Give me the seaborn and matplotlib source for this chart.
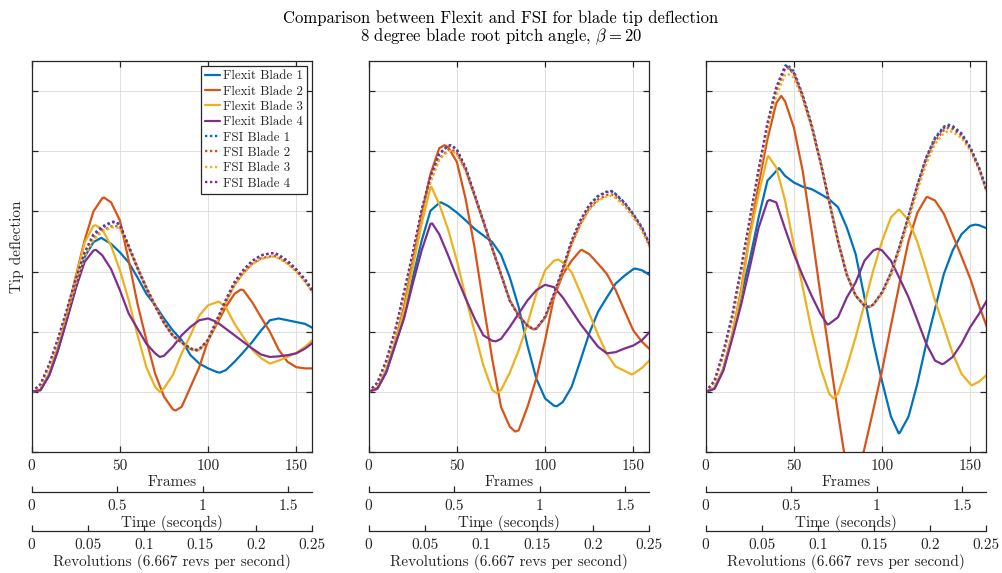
import matplotlib
matplotlib.use("Agg")
import matplotlib.pyplot as plt
import seaborn as sns

# Frame numbers at which the tip deflection was sampled
frames = list(range(0, 161, 5))

blade_labels = ["Blade 1", "Blade 2", "Blade 3", "Blade 4"]
blade_colors = ["#0072BD", "#D95319", "#EDB120", "#7E2F8E"]

# ---- Panel 1: regular samples, plus (frame, value) of the turning points ----
p1_flexit_b1 = [0, 0.03, 0.28, 0.70, 1.22, 1.74, 2.24, 2.49, 2.55, 2.46, 2.32, 2.15, 1.90, 1.63, 1.44, 1.22, 1.02,
                0.86, 0.61, 0.47, 0.39, 0.33, 0.36, 0.50, 0.66, 0.83, 1.02, 1.19, 1.22, 1.19, 1.16, 1.13, 1.05]
p1_flexit_b2 = [0, 0.03, 0.30, 0.75, 1.30, 1.92, 2.52, 3.00, 3.22, 3.15, 2.85, 2.18, 1.46, 0.86, 0.30, -0.08, -0.29,
                -0.25, 0.08, 0.41, 0.86, 1.13, 1.41, 1.63, 1.69, 1.49, 1.24, 1.00, 0.70, 0.50, 0.41, 0.39, 0.39]
p1_flexit_b3 = [0, 0.03, 0.30, 0.74, 1.28, 1.90, 2.48, 2.76, 2.70, 2.43, 2.02, 1.52, 0.94, 0.41, 0.08, 0.06, 0.28,
                0.64, 0.94, 1.27, 1.44, 1.49, 1.41, 1.13, 0.91, 0.70, 0.56, 0.47, 0.52, 0.58, 0.65, 0.75, 0.88]
p1_flexit_b4 = [0, 0.03, 0.28, 0.70, 1.20, 1.72, 2.16, 2.35, 2.27, 2.04, 1.69, 1.30, 1.05, 0.80, 0.64, 0.60, 0.75,
                0.94, 1.08, 1.19, 1.22, 1.16, 1.05, 0.94, 0.83, 0.72, 0.62, 0.58, 0.59, 0.61, 0.64, 0.72, 0.83]
p1_fsi_b1 = [0, 0.11, 0.44, 0.86, 1.35, 1.85, 2.30, 2.60, 2.73, 2.81, 2.79, 2.43, 2.07, 1.74, 1.44, 1.16, 0.94,
             0.83, 0.72, 0.70, 0.86, 1.19, 1.52, 1.82, 2.02, 2.17, 2.27, 2.30, 2.28, 2.18, 2.04, 1.87, 1.66]
p1_fsi_b2 = [0, 0.10, 0.42, 0.84, 1.32, 1.82, 2.26, 2.55, 2.68, 2.75, 2.74, 2.41, 2.06, 1.73, 1.43, 1.15, 0.93,
             0.82, 0.71, 0.70, 0.85, 1.17, 1.49, 1.78, 1.98, 2.13, 2.22, 2.25, 2.23, 2.14, 2.01, 1.84, 1.63]
p1_fsi_b3 = [0, 0.10, 0.42, 0.84, 1.31, 1.80, 2.24, 2.53, 2.66, 2.73, 2.72, 2.40, 2.05, 1.72, 1.43, 1.15, 0.93,
             0.82, 0.71, 0.70, 0.85, 1.16, 1.48, 1.77, 1.97, 2.12, 2.21, 2.24, 2.22, 2.13, 2.00, 1.83, 1.62]
p1_fsi_b4 = [0, 0.13, 0.47, 0.90, 1.38, 1.88, 2.32, 2.62, 2.75, 2.82, 2.78, 2.41, 2.05, 1.72, 1.42, 1.14, 0.93,
             0.82, 0.72, 0.71, 0.87, 1.20, 1.53, 1.83, 2.03, 2.18, 2.27, 2.30, 2.27, 2.17, 2.03, 1.86, 1.64]
p1_flexit_b1_turns = ([39.5, 106.6], [2.56, 0.32])
p1_flexit_b2_turns = ([41, 81.5, 118.5], [3.23, -0.31, 1.70])
p1_flexit_b3_turns = ([36.2, 72.6, 106], [2.77, 0.0, 1.50])
p1_flexit_b4_turns = ([36.4, 72.6], [2.36, 0.58])
p1_fsi_b1_turns = ([47, 93.4, 137.5], [2.82, 0.69, 2.31])
p1_fsi_b2_turns = ([47, 93.4, 137.5], [2.76, 0.69, 2.26])
p1_fsi_b3_turns = ([47, 93.4, 137.5], [2.74, 0.69, 2.25])
p1_fsi_b4_turns = ([46.5, 93.4, 137.5], [2.83, 0.70, 2.31])

# ---- Panel 2 ----
p2_flexit_b1 = [0, 0.05, 0.33, 0.78, 1.24, 1.90, 2.51, 3.01, 3.14, 3.09, 2.98, 2.85, 2.71, 2.60, 2.49, 2.28, 1.90,
                1.41, 0.77, 0.22, -0.11, -0.23, -0.17, 0.08, 0.52, 0.97, 1.33, 1.57, 1.80, 1.93, 2.04, 2.02, 1.93]
p2_flexit_b2 = [0, 0.06, 0.36, 0.82, 1.41, 2.18, 2.96, 3.62, 4.05, 4.07, 3.82, 3.20, 2.40, 1.46, 0.55, -0.25, -0.58,
                -0.64, -0.25, 0.22, 0.86, 1.57, 1.95, 2.18, 2.35, 2.29, 2.13, 1.96, 1.69, 1.35, 1.02, 0.83, 0.69]
p2_flexit_b3 = [0, 0.06, 0.36, 0.82, 1.35, 2.07, 2.79, 3.40, 3.12, 2.70, 2.18, 1.57, 1.00, 0.44, 0.03, 0.03, 0.32,
                0.69, 1.13, 1.63, 2.02, 2.18, 2.15, 1.99, 1.65, 1.30, 0.95, 0.63, 0.42, 0.35, 0.30, 0.40, 0.55]
p2_flexit_b4 = [0, 0.06, 0.33, 0.78, 1.22, 1.80, 2.35, 2.79, 2.62, 2.27, 1.90, 1.55, 1.22, 0.94, 0.85, 0.88, 1.08,
                1.30, 1.52, 1.69, 1.78, 1.74, 1.57, 1.35, 1.13, 0.94, 0.75, 0.64, 0.66, 0.72, 0.77, 0.86, 1.02]
p2_fsi_b1 = [0, 0.14, 0.50, 1.00, 1.63, 2.29, 3.01, 3.56, 3.95, 4.09, 4.03, 3.73, 3.29, 2.85, 2.40, 1.96, 1.52,
             1.27, 1.10, 1.05, 1.24, 1.62, 2.04, 2.51, 2.85, 3.11, 3.26, 3.33, 3.29, 3.15, 2.96, 2.73, 2.40]
p2_fsi_b2 = [0, 0.13, 0.48, 0.97, 1.60, 2.25, 2.95, 3.50, 3.88, 4.02, 3.97, 3.69, 3.26, 2.83, 2.39, 1.95, 1.52,
             1.27, 1.10, 1.05, 1.23, 1.60, 2.01, 2.46, 2.79, 3.05, 3.20, 3.27, 3.24, 3.10, 2.92, 2.69, 2.37]
p2_fsi_b3 = [0, 0.13, 0.48, 0.97, 1.59, 2.24, 2.93, 3.48, 3.86, 4.00, 3.95, 3.67, 3.25, 2.82, 2.38, 1.95, 1.52,
             1.27, 1.10, 1.05, 1.23, 1.59, 2.00, 2.45, 2.77, 3.03, 3.18, 3.25, 3.22, 3.09, 2.91, 2.68, 2.36]
p2_fsi_b4 = [0, 0.16, 0.53, 1.03, 1.66, 2.32, 3.03, 3.58, 3.96, 4.09, 4.02, 3.71, 3.27, 2.83, 2.38, 1.95, 1.51,
             1.26, 1.10, 1.05, 1.25, 1.63, 2.05, 2.51, 2.85, 3.10, 3.25, 3.32, 3.28, 3.14, 2.95, 2.72, 2.40]
p2_flexit_b1_turns = ([41, 106.6, 151], [3.15, -0.24, 2.05])
p2_flexit_b2_turns = ([43, 83, 120.8], [4.10, -0.66, 2.36])
p2_flexit_b3_turns = ([35.5, 72.5, 107.5, 149], [3.41, -0.02, 2.20, 0.29])
p2_flexit_b4_turns = ([36, 72], [2.80, 0.84])
p2_fsi_b1_turns = ([47, 93.4, 137.8], [4.10, 1.04, 3.34])
p2_fsi_b2_turns = ([47, 93.4, 137.8], [4.03, 1.04, 3.28])
p2_fsi_b3_turns = ([47, 93.4, 137.8], [4.01, 1.04, 3.26])
p2_fsi_b4_turns = ([46.5, 93.4, 137.8], [4.10, 1.04, 3.33])

# ---- Panel 3 ----
p3_flexit_b1 = [0, 0.06, 0.38, 0.93, 1.60, 2.20, 2.90, 3.51, 3.67, 3.59, 3.48, 3.41, 3.37, 3.29, 3.20, 3.07, 2.73,
                2.29, 1.57, 0.83, 0.17, -0.41, -0.68, -0.41, 0.14, 0.80, 1.38, 1.96, 2.35, 2.62, 2.76, 2.77, 2.71]
p3_flexit_b2 = [0, 0.06, 0.38, 0.95, 1.68, 2.62, 3.45, 4.20, 4.80, 4.83, 4.39, 3.67, 2.68, 1.63, 0.64, -0.36, -1.30,
                -1.50, -0.94, -0.30, 0.36, 1.10, 1.82, 2.51, 2.98, 3.23, 3.18, 2.96, 2.61, 2.25, 1.88, 1.43, 1.03]
p3_flexit_b3 = [0, 0.06, 0.38, 0.95, 1.65, 2.57, 3.29, 3.90, 3.73, 3.18, 2.43, 1.74, 1.02, 0.41, -0.03, -0.03, 0.41,
                0.91, 1.46, 2.02, 2.51, 2.90, 3.02, 2.85, 2.49, 2.02, 1.52, 1.08, 0.64, 0.30, 0.13, 0.17, 0.30]
p3_flexit_b4 = [0, 0.05, 0.35, 0.88, 1.44, 2.07, 2.73, 3.17, 3.15, 2.71, 2.29, 1.93, 1.60, 1.30, 1.13, 1.24, 1.57,
                1.82, 2.18, 2.35, 2.35, 2.18, 1.88, 1.57, 1.19, 0.80, 0.52, 0.47, 0.58, 0.80, 1.08, 1.30, 1.55]
p3_fsi_b1 = [0, 0.17, 0.64, 1.24, 2.02, 2.85, 3.67, 4.45, 5.06, 5.42, 5.33, 4.94, 4.45, 3.84, 3.18, 2.51, 1.95,
             1.60, 1.43, 1.45, 1.65, 1.97, 2.42, 2.92, 3.44, 3.90, 4.23, 4.41, 4.42, 4.30, 4.07, 3.73, 3.30]
p3_fsi_b2 = [0, 0.16, 0.62, 1.22, 1.99, 2.81, 3.62, 4.40, 5.00, 5.37, 5.29, 4.91, 4.43, 3.83, 3.17, 2.51, 1.95,
             1.60, 1.43, 1.45, 1.64, 1.95, 2.39, 2.88, 3.39, 3.84, 4.17, 4.35, 4.37, 4.26, 4.04, 3.71, 3.28]
p3_fsi_b3 = [0, 0.16, 0.62, 1.21, 1.97, 2.78, 3.58, 4.34, 4.92, 5.27, 5.22, 4.86, 4.40, 3.81, 3.16, 2.50, 1.95,
             1.60, 1.43, 1.44, 1.63, 1.94, 2.37, 2.85, 3.35, 3.79, 4.12, 4.30, 4.32, 4.22, 4.01, 3.69, 3.26]
p3_fsi_b4 = [0, 0.19, 0.67, 1.27, 2.05, 2.88, 3.70, 4.47, 5.06, 5.40, 5.30, 4.91, 4.42, 3.82, 3.16, 2.50, 1.94,
             1.60, 1.43, 1.45, 1.66, 1.98, 2.43, 2.93, 3.44, 3.89, 4.21, 4.39, 4.40, 4.28, 4.05, 3.71, 3.28]
p3_flexit_b1_turns = ([41.5, 109.4, 152.8], [3.72, -0.69, 2.78])
p3_flexit_b2_turns = ([42.8, 125.7], [4.92, 3.24])
p3_flexit_b3_turns = ([35.5, 72.5, 109.4, 150.9], [3.92, -0.11, 3.03, 0.11])
p3_flexit_b4_turns = ([36.2, 69, 97.5, 134], [3.19, 1.12, 2.38, 0.46])
p3_fsi_b1_turns = ([46.2, 92.5, 137.7], [5.44, 1.41, 4.44])
p3_fsi_b2_turns = ([46.2, 92.5, 137.7], [5.39, 1.41, 4.39])
p3_fsi_b3_turns = ([46.5, 92.5, 137.7], [5.29, 1.41, 4.34])
p3_fsi_b4_turns = ([46.2, 92.5, 137.7], [5.41, 1.41, 4.42])

panels = [
    ([p1_flexit_b1, p1_flexit_b2, p1_flexit_b3, p1_flexit_b4],
     [p1_flexit_b1_turns, p1_flexit_b2_turns, p1_flexit_b3_turns, p1_flexit_b4_turns],
     [p1_fsi_b1, p1_fsi_b2, p1_fsi_b3, p1_fsi_b4],
     [p1_fsi_b1_turns, p1_fsi_b2_turns, p1_fsi_b3_turns, p1_fsi_b4_turns]),
    ([p2_flexit_b1, p2_flexit_b2, p2_flexit_b3, p2_flexit_b4],
     [p2_flexit_b1_turns, p2_flexit_b2_turns, p2_flexit_b3_turns, p2_flexit_b4_turns],
     [p2_fsi_b1, p2_fsi_b2, p2_fsi_b3, p2_fsi_b4],
     [p2_fsi_b1_turns, p2_fsi_b2_turns, p2_fsi_b3_turns, p2_fsi_b4_turns]),
    ([p3_flexit_b1, p3_flexit_b2, p3_flexit_b3, p3_flexit_b4],
     [p3_flexit_b1_turns, p3_flexit_b2_turns, p3_flexit_b3_turns, p3_flexit_b4_turns],
     [p3_fsi_b1, p3_fsi_b2, p3_fsi_b3, p3_fsi_b4],
     [p3_fsi_b1_turns, p3_fsi_b2_turns, p3_fsi_b3_turns, p3_fsi_b4_turns]),
]

frame_ticks = [0, 50, 100, 150]
time_ticks = [0, 0.5, 1, 1.5]
time_tick_labels = ["0", "0.5", "1", "1.5"]
rev_ticks = [0, 0.05, 0.1, 0.15, 0.2, 0.25]
rev_tick_labels = ["0", "0.05", "0.1", "0.15", "0.2", "0.25"]

title_lines = ["Comparison between Flexit and FSI for blade tip deflection",
               r"8 degree blade root pitch angle, $\beta = 20$"]

sns.set_theme(style="ticks")
plt.rcParams["font.family"] = ["cmr10", "DejaVu Sans"]
plt.rcParams["mathtext.fontset"] = "cm"
plt.rcParams["axes.formatter.use_mathtext"] = True

INK = "#262626"
W, H = 1002, 573
fig = plt.figure(figsize=(W / 100, H / 100), dpi=100)

lefts = [31.7, 368.7, 705.7]
width = 280.5
top, bottom = 61, 452
time_y, rev_y = 492, 531
TICK_FS = 11
LABEL_FS = 11


def series(vals, turns):
    """Merge the regular samples with the turning-point readings, ordered by frame."""
    pts = dict(zip(frames, vals))
    pts.update(dict(zip(*turns)))
    xs = sorted(pts)
    return xs, [pts[x] for x in xs]


def px_axes(left, y_top, y_bottom):
    return fig.add_axes([left / W, (H - y_bottom) / H, width / W, (y_bottom - y_top) / H])


def style_scale_axis(sax, ticks, labels, lim, label):
    sax.set_xlim(*lim)
    sax.set_ylim(0, 1)
    sax.patch.set_visible(False)
    for side in ("left", "right", "top"):
        sax.spines[side].set_visible(False)
    sax.spines["bottom"].set_color(INK)
    sax.spines["bottom"].set_linewidth(0.9)
    sax.set_yticks([])
    sax.set_xticks(ticks)
    sax.set_xticklabels(labels)
    sax.tick_params(axis="x", direction="in", length=4, width=0.9, colors=INK,
                    labelcolor=INK, labelsize=TICK_FS, pad=5)
    sax.set_xlabel(label, fontsize=LABEL_FS, color=INK, labelpad=2)


for i, (flexit, flexit_turns, fsi, fsi_turns) in enumerate(panels):
    left = lefts[i]
    ax = px_axes(left, top, bottom)
    for vals, turns, name, col in zip(flexit, flexit_turns, blade_labels, blade_colors):
        xs, ys = series(vals, turns)
        sns.lineplot(x=xs, y=ys, ax=ax, color=col, linewidth=1.6,
                     label=f"Flexit {name}" if i == 0 else None)
    for vals, turns, name, col in zip(fsi, fsi_turns, blade_labels, blade_colors):
        xs, ys = series(vals, turns)
        sns.lineplot(x=xs, y=ys, ax=ax, color=col, linewidth=1.7, linestyle=(0, (1, 1.1)),
                     label=f"FSI {name}" if i == 0 else None)
    ax.set_xlim(0, 159)
    ax.set_ylim(-1, 5.5)
    ax.set_xticks(frame_ticks)
    ax.set_xticklabels([str(t) for t in frame_ticks])
    ax.set_yticks(range(-1, 6))
    ax.set_yticklabels([])
    ax.grid(True, color="#dedede", linewidth=0.7)
    ax.set_axisbelow(True)
    for sp in ax.spines.values():
        sp.set_color(INK)
        sp.set_linewidth(0.9)
    ax.tick_params(direction="in", top=True, right=True, length=4, width=0.9,
                   colors=INK, labelcolor=INK, labelsize=TICK_FS, pad=5)
    ax.set_xlabel("Frames", fontsize=LABEL_FS, color=INK, labelpad=2)
    if i == 0:
        ax.set_ylabel("Tip deflection", fontsize=LABEL_FS, color=INK)
        ax.yaxis.set_label_coords(-0.028, 0.525)
        leg = ax.legend(loc="upper right", fontsize=9.3, frameon=True, fancybox=False,
                        framealpha=1, edgecolor=INK, handlelength=1.15, handletextpad=0.25,
                        labelspacing=0.25, borderpad=0.3, borderaxespad=0.4)
        leg.get_frame().set_linewidth(0.9)
        for t in leg.get_texts():
            t.set_color(INK)
    else:
        if ax.get_legend() is not None:
            ax.get_legend().remove()

    tax = px_axes(left, time_y - 1, time_y)
    style_scale_axis(tax, time_ticks, time_tick_labels, (0, 1.64), "Time (seconds)")
    rax = px_axes(left, rev_y - 1, rev_y)
    style_scale_axis(rax, rev_ticks, rev_tick_labels, (0, 0.25), "Revolutions (6.667 revs per second)")

fig.text(0.5, 1 - 18 / H, title_lines[0], ha="center", va="center", fontsize=12, color="black")
fig.text(0.5, 1 - 37 / H, title_lines[1], ha="center", va="center", fontsize=12, color="black")

fig.savefig("out.png", dpi=100)
